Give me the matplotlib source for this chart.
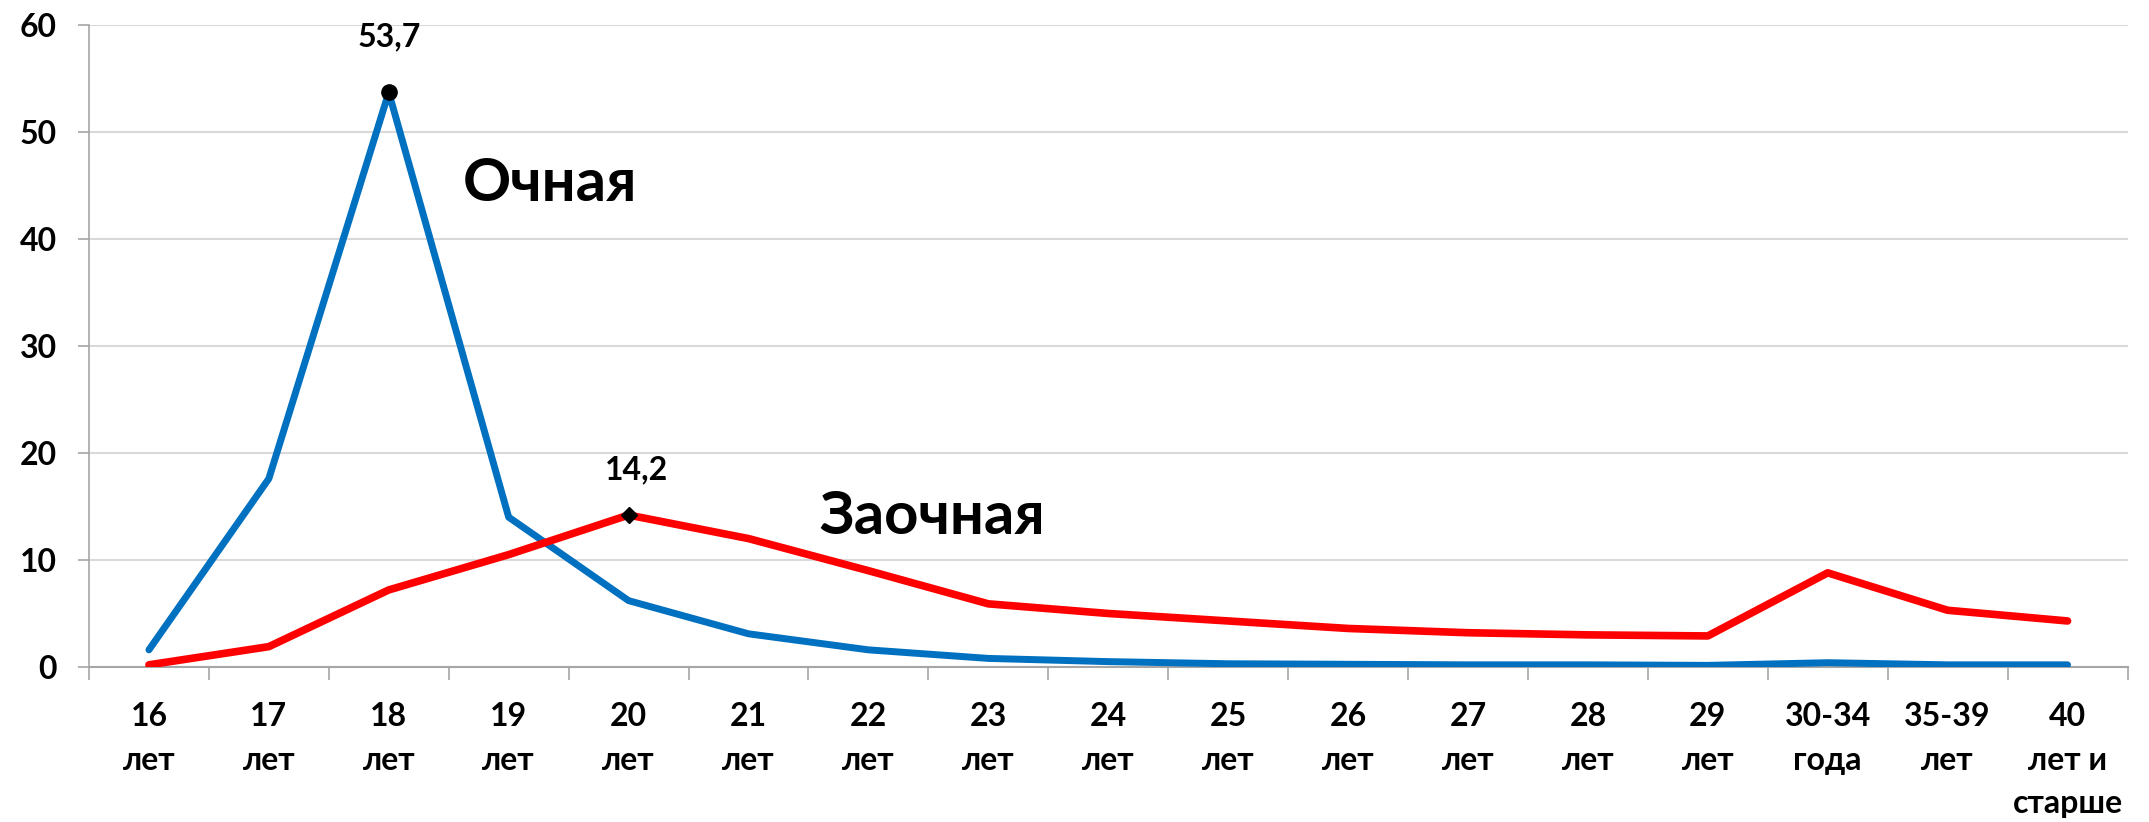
import matplotlib
matplotlib.use("Agg")
import matplotlib.pyplot as plt
import numpy as np

plt.rcParams["font.family"] = ["Lato", "DejaVu Sans"]
plt.rcParams["font.weight"] = "bold"

# age groups (x axis)
categories = ["16\nлет", "17\nлет", "18\nлет", "19\nлет", "20\nлет", "21\nлет",
              "22\nлет", "23\nлет", "24\nлет", "25\nлет", "26\nлет", "27\nлет",
              "28\nлет", "29\nлет", "30-34\nгода", "35-39\nлет", "40\nлет и\nстарше"]

# full-time students, %
ochnaya = [1.6, 17.6, 53.7, 14.0, 6.2, 3.1, 1.6, 0.8, 0.5, 0.3,
           0.25, 0.2, 0.2, 0.15, 0.4, 0.2, 0.2]
# part-time students, %
zaochnaya = [0.2, 1.9, 7.2, 10.5, 14.2, 12.0, 9.0, 5.9, 5.0, 4.3,
             3.6, 3.2, 3.0, 2.9, 8.8, 5.3, 4.3]

BLUE = "#0070C0"
RED = "#FF0000"

fig = plt.figure(figsize=(21.49, 8.22), dpi=100)
ax = fig.add_axes([0.0414, 0.1886, 0.9486, 0.781])

x = np.arange(len(categories))
ax.plot(x, ochnaya, color=BLUE, lw=5.0, solid_joinstyle="round", solid_capstyle="round", zorder=3)
ax.plot(x, zaochnaya, color=RED, lw=5.5, solid_joinstyle="round", solid_capstyle="round", zorder=4)

# peak markers and value labels
i_o = int(np.argmax(ochnaya))
i_z = int(np.argmax(zaochnaya))
ax.plot(x[i_o], ochnaya[i_o], "o", color="black", ms=11, zorder=5)
ax.plot(x[i_z], zaochnaya[i_z], "D", color="black", ms=8, zorder=5)
ax.annotate(f"{ochnaya[i_o]:.1f}".replace(".", ","), (x[i_o], ochnaya[i_o]),
            xytext=(0, 33), textcoords="offset points", ha="center", va="baseline",
            fontsize=23, fontweight="bold")
ax.annotate(f"{zaochnaya[i_z]:.1f}".replace(".", ","), (x[i_z], zaochnaya[i_z]),
            xytext=(6, 26), textcoords="offset points", ha="center", va="baseline",
            fontsize=23, fontweight="bold")

# series names
ax.text(3.34, 45.1, "Очная", fontsize=43, fontweight="bold", ha="center", va="center")
ax.text(6.53, 14.0, "Заочная", fontsize=43, fontweight="bold", ha="center", va="center")

ax.set_xlim(-0.5, len(categories) - 0.5)
ax.set_ylim(0, 60)
ax.set_yticks(np.arange(0, 61, 10))
ax.yaxis.grid(True, color="#D9D9D9", lw=1.5)
ax.set_axisbelow(True)

ax.set_xticks(x)
ax.set_xticklabels(categories, fontsize=23, fontweight="bold", linespacing=1.62)
ax.set_xticks(np.arange(-0.5, len(categories)), minor=True)
ax.tick_params(axis="x", which="major", length=0, pad=25)
ax.tick_params(axis="x", which="minor", length=9, width=1.2, color="#A6A6A6", direction="out")
ax.tick_params(axis="y", length=8, width=1.2, color="#A6A6A6", pad=15, labelsize=23)
for lab in ax.get_yticklabels():
    lab.set_fontweight("bold")

for s in ["top", "right"]:
    ax.spines[s].set_visible(False)
ax.spines["left"].set_color("#A6A6A6")
ax.spines["bottom"].set_color("#A6A6A6")
ax.spines["left"].set_linewidth(1.2)
ax.spines["bottom"].set_linewidth(1.5)

fig.savefig("out.png", dpi=100, facecolor="white")
